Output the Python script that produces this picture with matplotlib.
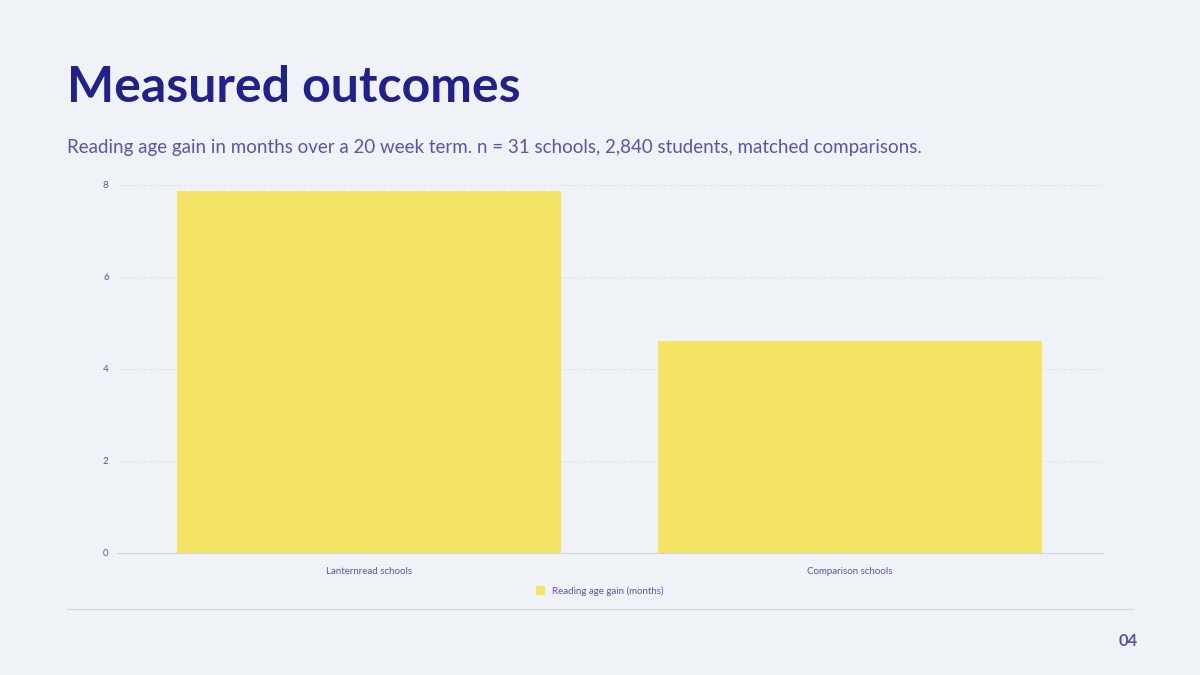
import matplotlib
matplotlib.use("Agg")
import matplotlib.pyplot as plt
from matplotlib.lines import Line2D

categories = ["Lanternread schools", "Comparison schools"]
values = [7.88, 4.6]
series_name = "Reading age gain (months)"
yticks = [0, 2, 4, 6, 8]

BG = "#eff3f8"
NAVY = "#22218c"
PURPLE = "#5b54a8"
BAR = "#f3e466"

plt.rcParams['font.family'] = ['Lato', 'DejaVu Sans']
fig = plt.figure(figsize=(12, 6.75), dpi=100, facecolor=BG)
fig.text(67/1200, 1-88/675, "Measured outcomes", fontsize=36, fontweight="bold",
         color=NAVY, va="center", ha="left")
fig.text(67/1200, 1-147/675,
         "Reading age gain in months over a 20 week term. n = 31 schools, 2,840 students, matched comparisons.",
         fontsize=13.5, color=PURPLE, va="center", ha="left")

ax = fig.add_axes([117/1200, 1-553/675, 986/1200, 368/675], facecolor=BG)
x = list(range(len(categories)))
ax.bar(x, values, width=0.8, color=BAR, zorder=2)
ax.set_xlim(-0.524, 1.526)
ax.set_ylim(0, 8)
ax.set_yticks(yticks)
ax.set_xticks(x)
ax.set_xticklabels(categories)
ax.tick_params(axis="both", length=0, labelsize=7, labelcolor=PURPLE)
ax.tick_params(axis="x", pad=10)
ax.tick_params(axis="y", pad=6)
ax.grid(axis="y", linestyle=(0, (1, 2)), color="#d3d6e2", linewidth=0.8, zorder=0)
for s in ["top", "right", "left"]:
    ax.spines[s].set_visible(False)
ax.spines["bottom"].set_color("#d0d4e0")

handle = Line2D([], [], marker="s", linestyle="none", markersize=6,
                markerfacecolor=BAR, markeredgecolor=BAR)
fig.legend([handle], [series_name], loc="center", bbox_to_anchor=(597/1200, 1-591/675),
           frameon=False, fontsize=7, labelcolor=PURPLE, handletextpad=0.2)

fig.add_artist(Line2D([67/1200, 1133/1200], [1-609/675, 1-609/675], color="#d3d6e0", linewidth=0.8))
fig.text(1138/1200, 1-641/675, "04", fontsize=12, fontweight="bold", color=PURPLE,
         ha="right", va="center")

fig.savefig("out.png", dpi=100, facecolor=BG)
